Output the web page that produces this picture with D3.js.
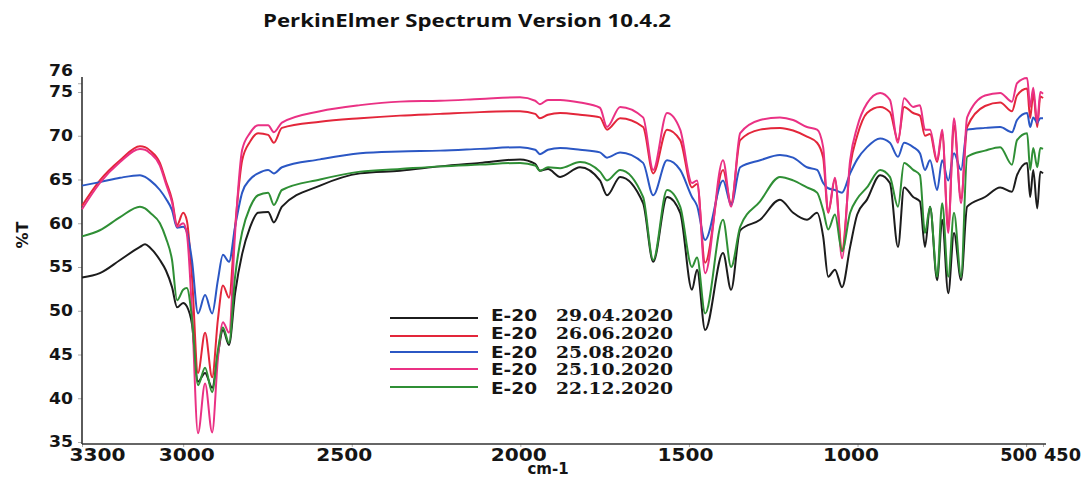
<!DOCTYPE html>
<html>
<head>
<meta charset="utf-8">
<script src="https://cdn.jsdelivr.net/npm/d3@7"></script>
<style>
  body { margin: 0; background: #fff; }
  svg { display: block; }
  .tick text { font-family: "DejaVu Sans", sans-serif; font-weight: bold; fill: #151515; }
  .tick line { stroke: #aaa; }
</style>
</head>
<body>
<div id="svg-container"></div>
<script>
// wavenumber grid (cm-1), shared by all five spectra
const wavenumbers = [3300, 3247, 3187, 3128, 3113, 3098, 3069, 3051, 3033, 3018, 3000, 2989, 2974, 2956, 2935, 2914, 2897, 2882, 2864, 2846, 2825, 2802, 2778, 2748, 2731, 2707,
  2594, 2475, 2357, 2238, 2120, 2001, 1956, 1942, 1918, 1882, 1823, 1764, 1743, 1704, 1636, 1606, 1565, 1526, 1491, 1476, 1452, 1399, 1375, 1348,
  1289, 1230, 1191, 1150, 1120, 1102, 1087, 1067, 1046, 1022, 1001, 972, 933, 904, 880, 862, 835, 815, 800, 785, 764, 749, 731, 714, 693, 675,
  622, 577, 542, 527, 497, 488, 479, 467, 458, 450];

// %T per series
const t290420 = [53.8, 54.3, 55.8, 57.3, 57.6, 57.2, 55.8, 54.6, 52.7, 50.4, 50.9, 50.5, 48.5, 41.9, 42.9, 41.2, 45.0, 47.8, 46.1, 52.0, 56.5, 59.5, 61.2, 61.3, 60.1, 61.9,
  64.3, 65.7, 66.0, 66.5, 66.9, 67.3, 66.8, 66.0, 66.2, 65.3, 66.4, 64.9, 63.2, 65.3, 62.3, 55.6, 63.0, 61.2, 52.4, 54.7, 47.8, 56.6, 52.4, 59.2,
  60.4, 62.7, 61.2, 60.4, 61.2, 58.5, 53.9, 54.7, 52.7, 57.3, 61.0, 62.7, 65.5, 64.6, 57.3, 64.1, 63.0, 62.5, 57.3, 61.9, 53.5, 60.4, 52.0, 58.9, 53.5, 61.9,
  63.0, 64.1, 63.6, 65.5, 66.9, 63.0, 66.1, 61.7, 65.9, 65.7];
const t260620 = [62.0, 64.9, 67.2, 68.8, 68.7, 68.3, 66.9, 64.8, 62.7, 59.8, 61.2, 60.3, 54.0, 42.9, 47.5, 42.4, 49.0, 52.9, 51.5, 59.6, 67.2, 69.3, 70.3, 70.1, 69.2, 70.9,
  71.6, 72.0, 72.3, 72.5, 72.7, 72.8, 72.5, 72.0, 72.4, 72.6, 72.4, 72.1, 70.7, 72.0, 71.0, 65.7, 70.7, 69.5, 64.1, 64.5, 55.5, 66.1, 62.3, 69.5,
  70.7, 70.9, 70.6, 69.9, 69.2, 67.5, 61.2, 65.0, 57.0, 66.5, 70.0, 72.6, 73.3, 72.7, 69.5, 73.3, 72.6, 72.3, 70.0, 70.2, 67.0, 70.3, 59.5, 71.2, 62.8, 71.0,
  73.4, 73.8, 72.8, 74.6, 75.4, 72.0, 74.8, 71.0, 74.5, 74.3];
const t250820 = [64.3, 64.7, 65.2, 65.5, 65.3, 64.9, 63.8, 62.8, 61.5, 59.5, 59.6, 59.0, 55.8, 49.7, 51.8, 49.7, 53.5, 56.4, 55.6, 59.6, 63.5, 65.0, 65.7, 66.1, 65.7, 66.4,
  67.3, 68.0, 68.2, 68.3, 68.5, 68.7, 68.4, 67.9, 68.4, 68.6, 68.4, 68.1, 67.5, 68.1, 66.9, 63.2, 67.2, 66.1, 63.0, 62.0, 58.1, 64.9, 62.1, 66.4,
  67.2, 67.8, 67.5, 66.4, 66.1, 64.6, 64.0, 63.8, 63.5, 65.7, 67.3, 68.7, 69.7, 69.2, 67.6, 69.2, 68.7, 68.0, 66.1, 67.2, 63.8, 67.2, 64.9, 68.0, 66.1, 70.7,
  70.9, 71.0, 70.4, 71.8, 72.6, 71.0, 72.1, 71.5, 72.0, 72.0];
const t251020 = [61.6, 64.6, 67.0, 68.5, 68.4, 68.0, 66.6, 64.5, 62.4, 59.6, 60.0, 58.8, 50.0, 36.0, 41.7, 36.1, 44.5, 48.7, 47.5, 58.9, 68.4, 70.3, 71.2, 71.2, 70.4, 71.5,
  72.8, 73.5, 73.9, 74.0, 74.2, 74.4, 74.0, 73.6, 74.1, 74.1, 73.8, 73.2, 71.0, 73.3, 72.1, 66.1, 72.6, 70.7, 64.6, 64.9, 54.3, 67.2, 61.9, 70.3,
  71.8, 72.1, 71.8, 71.0, 70.7, 68.7, 61.3, 65.2, 56.0, 67.2, 71.0, 73.7, 74.9, 74.1, 69.2, 74.3, 73.3, 73.5, 70.7, 70.7, 67.2, 70.7, 58.9, 72.0, 62.3, 72.1,
  74.6, 74.9, 73.9, 76.0, 76.6, 73.3, 75.5, 71.5, 75.0, 74.8];
const t221220 = [58.5, 59.2, 60.7, 61.9, 61.7, 61.2, 60.0, 58.3, 55.8, 51.2, 52.4, 52.6, 49.2, 41.5, 43.5, 40.7, 45.5, 48.1, 46.3, 53.9, 59.0, 61.8, 63.2, 63.5, 62.1, 63.8,
  65.0, 65.9, 66.2, 66.5, 66.7, 66.9, 66.6, 66.0, 66.4, 66.3, 67.0, 65.9, 64.9, 66.1, 63.0, 55.8, 63.8, 61.9, 55.0, 56.1, 49.7, 60.4, 55.0, 59.6,
  62.5, 65.3, 64.9, 64.1, 63.5, 61.5, 59.3, 61.0, 56.8, 61.2, 62.8, 64.1, 66.1, 65.3, 61.9, 66.9, 66.1, 65.5, 58.9, 61.9, 53.9, 62.3, 53.9, 61.2, 53.9, 67.6,
  68.3, 68.7, 66.7, 69.5, 70.3, 66.1, 68.6, 66.4, 68.6, 68.5];

const seriesNames = ["29.04.2020", "26.06.2020", "25.08.2020", "25.10.2020", "22.12.2020"];
const seriesValues = [t290420, t260620, t250820, t251020, t221220];
const seriesColors = ["#1c1c1c", "#e3263a", "#2b57c4", "#ea3184", "#2f8f35"];

const yTicks = [35, 40, 45, 50, 55, 60, 65, 70, 75, 76];
const xTicks = [3300, 3000, 2500, 2000, 1500, 1000, 500, 450];

////////////////////////////  Init  ///////////////////////////////
const width = 1086;
const height = 478;

const svg = d3.select("#svg-container").append("svg")
  .attr("width", width)
  .attr("height", height);

// scale
const xScale = d3.scaleLinear().domain([3300, 450]).range([82, 1043]);
const yScale = d3.scaleLinear().domain([35, 76]).range([442, 83.25]);

// title
svg.append("text")
  .attr("x", 467)
  .attr("y", 27)
  .attr("text-anchor", "middle")
  .style("font-family", "'Open Sans', sans-serif")
  .style("font-weight", "bold")
  .style("font-size", "18px")
  .attr("textLength", 408)
  .attr("lengthAdjust", "spacingAndGlyphs")
  .attr("fill", "#111")
  .text("PerkinElmer Spectrum Version 10.4.2");

// axis
const yAxis = d3.axisLeft(yScale).tickValues(yTicks).tickSize(4).tickPadding(5).tickSizeOuter(0);
const xAxis = d3.axisBottom(xScale).tickValues(xTicks).tickFormat(d3.format("d"))
  .tickSize(3).tickPadding(2).tickSizeOuter(0);

const gy = svg.append("g").attr("class", "y-axis").attr("transform", "translate(82,0)").call(yAxis);
gy.select(".domain").remove();
gy.selectAll(".tick text")
  .style("font-size", "15px")
  .attr("textLength", 24)
  .attr("lengthAdjust", "spacingAndGlyphs")
  .attr("dy", (d) => (d === 76 ? "-0.55em" : "0.32em"));

// label offsets, as in the original print
const xLabelShift = { 3300: 15, 3000: 3, 2500: -8, 2000: -2, 1500: -4, 1000: -7, 500: -8, 450: 19 };
const gx = svg.append("g").attr("class", "x-axis").attr("transform", "translate(0,444)").call(xAxis);
gx.select(".domain").remove();
gx.selectAll(".tick text")
  .style("font-size", "17px")
  .attr("x", (d) => xLabelShift[d])
  .attr("textLength", (d) => (String(d).length === 4 ? 56 : 37))
  .attr("lengthAdjust", "spacingAndGlyphs");

// axis lines
svg.append("line").attr("x1", 82).attr("x2", 82).attr("y1", 77).attr("y2", 444)
  .attr("stroke", "#333").attr("stroke-width", 1.6);
svg.append("line").attr("x1", 82).attr("x2", 1046).attr("y1", 444).attr("y2", 444)
  .attr("stroke", "#333").attr("stroke-width", 1.6);

// axis titles
svg.append("text")
  .attr("transform", "translate(28,235) rotate(-90)")
  .attr("text-anchor", "middle")
  .style("font-family", "'DejaVu Sans', sans-serif")
  .style("font-weight", "bold")
  .style("font-size", "16px")
  .attr("fill", "#151515")
  .text("%T");

svg.append("text")
  .attr("x", 548)
  .attr("y", 474)
  .attr("text-anchor", "middle")
  .style("font-family", "'DejaVu Sans', sans-serif")
  .style("font-weight", "bold")
  .style("font-size", "15px")
  .attr("fill", "#151515")
  .text("cm-1");

// spectra
const line = d3.line()
  .x((d) => xScale(d[0]))
  .y((d) => yScale(d[1]))
  .curve(d3.curveMonotoneX);

seriesValues.forEach((vals, i) => {
  svg.append("path")
    .datum(wavenumbers.map((w, j) => [w, vals[j]]))
    .attr("d", line)
    .attr("fill", "none")
    .attr("stroke", seriesColors[i])
    .attr("stroke-width", 2)
    .attr("stroke-linejoin", "round");
});

// legend
const legendLineY = [318, 336, 352, 369, 387];
const legendTextY = [315, 333, 352, 369, 388];
const legend = svg.append("g").attr("class", "legend");
seriesNames.forEach((name, i) => {
  legend.append("line")
    .attr("x1", 390).attr("x2", 478)
    .attr("y1", legendLineY[i]).attr("y2", legendLineY[i])
    .attr("stroke", seriesColors[i])
    .attr("stroke-width", 2);
  legend.append("text")
    .attr("x", 491)
    .attr("y", legendTextY[i] + 6)
    .style("font-family", "'DejaVu Sans', sans-serif")
    .style("font-weight", "bold")
    .style("font-size", "16px")
    .attr("textLength", 46)
    .attr("lengthAdjust", "spacingAndGlyphs")
    .attr("fill", "#151515")
    .text("E-20");
  legend.append("text")
    .attr("x", 556)
    .attr("y", legendTextY[i] + 6)
    .style("font-family", "'DejaVu Serif', serif")
    .style("font-weight", "bold")
    .style("font-size", "16px")
    .attr("textLength", 117)
    .attr("lengthAdjust", "spacingAndGlyphs")
    .attr("fill", "#151515")
    .text(name);
});
</script>
</body>
</html>
